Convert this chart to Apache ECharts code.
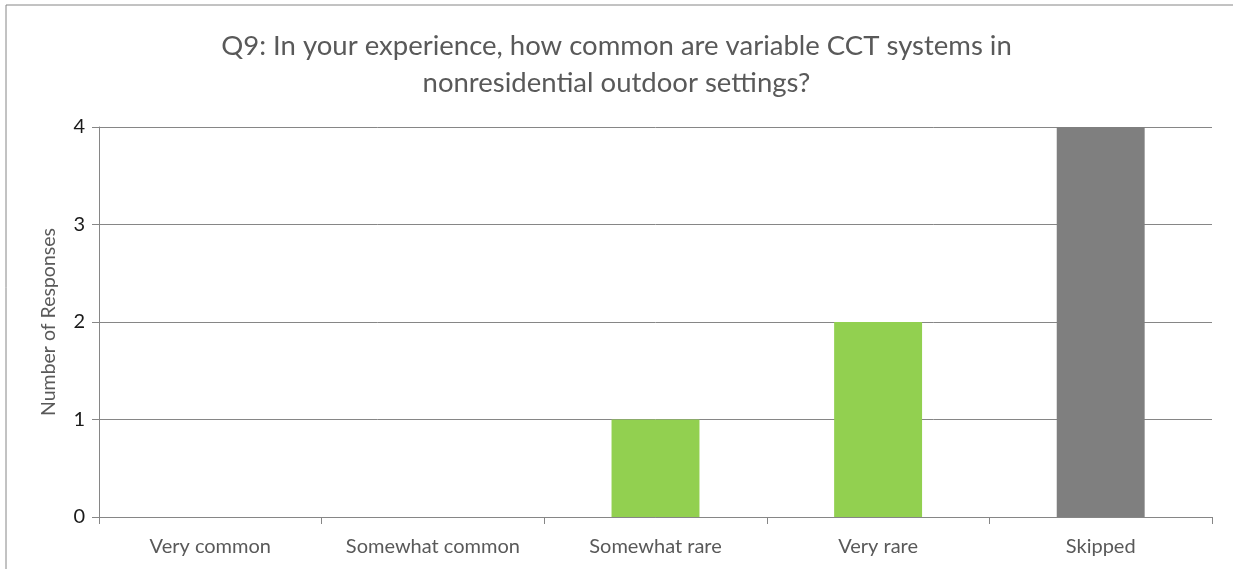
<!DOCTYPE html>
<html>
<head>
<meta charset="utf-8">
<script src="https://cdn.jsdelivr.net/npm/echarts@6/dist/echarts.min.js"></script>
<style>
  html, body { margin: 0; padding: 0; background: #fff; }
  #chart { width: 1233px; height: 569px; }
</style>
</head>
<body>
<div id="chart"></div>
<script>
const categories = ['Very common', 'Somewhat common', 'Somewhat rare', 'Very rare', 'Skipped']
const responses = [0, 0, 1, 2, 4]
const barColors = ['#92D050', '#92D050', '#92D050', '#92D050', '#7F7F7F']
const titleText = 'Q9: In your experience, how common are variable CCT systems in\nnonresidential outdoor settings?'

let myChart = echarts.init(document.getElementById('chart'))
myChart.setOption({
  backgroundColor: '#fff',
  animation: false,
  graphic: [
    {
      type: 'rect',
      shape: { x: 6, y: 5, width: 1240, height: 580 },
      style: { fill: 'none', stroke: '#868686', lineWidth: 1 },
      silent: true
    }
  ],
  title: {
    text: titleText,
    left: 'center',
    top: 23,
    textStyle: {
      fontFamily: 'Lato',
      fontWeight: 'normal',
      fontSize: 27.5,
      lineHeight: 37,
      color: '#595959'
    }
  },
  grid: {
    left: 99,
    right: 21,
    top: 127,
    bottom: 52
  },
  xAxis: {
    type: 'category',
    data: categories,
    axisLine: {
      lineStyle: { color: '#868686', width: 1 }
    },
    axisTick: {
      show: true,
      length: 7,
      lineStyle: { color: '#868686' }
    },
    axisLabel: {
      margin: 20,
      color: '#595959',
      fontFamily: 'Lato',
      fontSize: 20,
      interval: 0
    },
    splitLine: { show: false }
  },
  yAxis: {
    type: 'value',
    min: 0,
    max: 4,
    interval: 1,
    name: 'Number of Responses',
    nameLocation: 'middle',
    nameGap: 40,
    nameTextStyle: {
      color: '#595959',
      fontFamily: 'Lato',
      fontSize: 19.5
    },
    axisLine: {
      show: true,
      lineStyle: { color: '#868686', width: 1 }
    },
    axisTick: {
      show: true,
      length: 7,
      lineStyle: { color: '#868686' }
    },
    axisLabel: {
      margin: 14,
      color: '#1a1a1a',
      fontFamily: 'Lato',
      fontSize: 20
    },
    splitLine: {
      lineStyle: { color: '#868686', width: 1 }
    }
  },
  series: [
    {
      name: 'Responses',
      type: 'bar',
      barWidth: '39.5%',
      data: responses.map((v, i) => ({
        value: v,
        itemStyle: { color: barColors[i] }
      }))
    }
  ]
})
window.addEventListener('resize', () => {
  myChart.resize()
})
</script>
</body>
</html>
